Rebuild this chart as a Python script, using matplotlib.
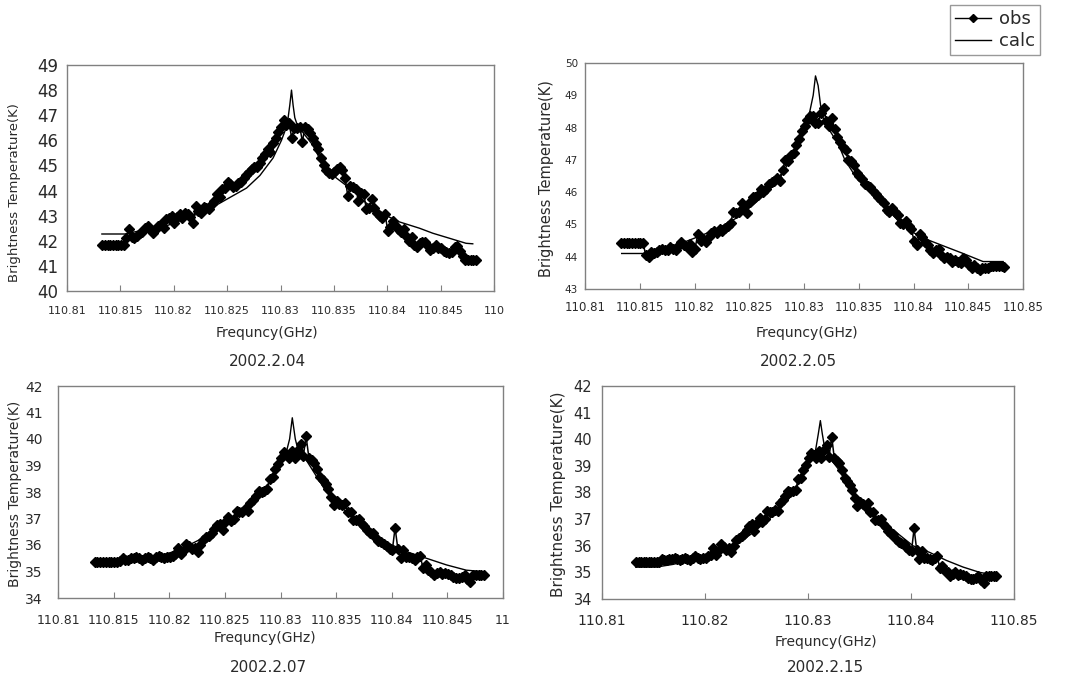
import numpy as np
import matplotlib
matplotlib.use("Agg")
import matplotlib.pyplot as plt
from matplotlib.lines import Line2D

# ---------------- data ----------------
# observed channels (evenly spaced spectrometer channels, GHz)
freq_start = 110.8133
freq_step = 0.00025

obs_0204 = [41.83, 41.83, 41.83, 41.83, 41.83, 41.83, 41.83, 41.83, 41.83, 42.1,
            42.45, 42.15, 42.1, 42.2, 42.3, 42.35, 42.5, 42.6, 42.45, 42.3,
            42.45, 42.6, 42.65, 42.5, 42.85, 42.9, 43.0, 42.7, 42.95, 43.05,
            42.9, 43.1, 43.05, 42.95, 42.7, 43.4, 43.2, 43.1, 43.35, 43.3,
            43.25, 43.45, 43.6, 43.85, 43.75, 44.05, 44.1, 44.35, 44.25, 44.15,
            44.2, 44.3, 44.35, 44.5, 44.6, 44.75, 44.85, 44.95, 44.95, 45.1,
            45.3, 45.45, 45.65, 45.55, 45.9, 46.1, 46.35, 46.55, 46.8, 46.6,
            46.7, 46.1, 46.5, 46.5, 46.55, 45.95, 46.55, 46.45, 46.3, 46.1,
            45.85, 45.65, 45.3, 45.0, 44.8, 44.7, 44.65, 44.75, 44.85, 44.95,
            44.8, 44.5, 43.8, 44.2, 44.15, 44.05, 43.6, 43.9, 43.85, 43.25,
            43.3, 43.65, 43.3, 43.1, 43.0, 42.9, 43.05, 42.4, 42.55, 42.8,
            42.6, 42.45, 42.35, 42.45, 42.2, 42.0, 42.15, 41.85, 41.75, 41.9,
            41.95, 41.95, 41.8, 41.65, 41.7, 41.85, 41.7, 41.7, 41.6, 41.55,
            41.5, 41.55, 41.75, 41.8, 41.6, 41.4, 41.22, 41.22, 41.22, 41.22,
            41.22]

obs_0205 = [44.42, 44.42, 44.42, 44.42, 44.42, 44.42, 44.42, 44.42, 44.42, 44.05,
            44.0, 44.15, 44.1, 44.15, 44.2, 44.25, 44.2, 44.2, 44.3, 44.25,
            44.2, 44.35, 44.45, 44.35, 44.3, 44.4, 44.15, 44.25, 44.7, 44.5,
            44.55, 44.45, 44.6, 44.75, 44.8, 44.75, 44.85, 44.8, 44.9, 44.95,
            45.05, 45.4, 45.35, 45.4, 45.65, 45.55, 45.35, 45.7, 45.85, 45.85,
            45.9, 46.1, 46.0, 46.1, 46.25, 46.3, 46.35, 46.45, 46.35, 46.7,
            47.0, 46.95, 47.15, 47.2, 47.45, 47.65, 47.9, 48.05, 48.25, 48.35,
            48.35, 48.15, 48.15, 48.45, 48.6, 48.2, 48.05, 48.3, 47.95, 47.7,
            47.55, 47.4, 47.3, 47.0, 46.95, 46.85, 46.6, 46.5, 46.4, 46.25,
            46.2, 46.15, 46.05, 45.95, 45.85, 45.75, 45.65, 45.45, 45.4, 45.5,
            45.4, 45.3, 45.05, 45.0, 45.1, 44.95, 44.85, 44.5, 44.35, 44.7,
            44.6, 44.45, 44.35, 44.2, 44.1, 44.2, 44.25, 44.05, 43.95, 44.0,
            43.95, 43.85, 43.9, 43.85, 43.8, 43.95, 43.9, 43.75, 43.65, 43.75,
            43.65, 43.6, 43.65, 43.65, 43.65, 43.7, 43.7, 43.7, 43.7, 43.7,
            43.68]

obs_0207 = [35.35, 35.35, 35.35, 35.35, 35.35, 35.35, 35.35, 35.35, 35.35, 35.4,
            35.5, 35.45, 35.45, 35.5, 35.5, 35.55, 35.5, 35.45, 35.5, 35.55,
            35.5, 35.45, 35.55, 35.6, 35.55, 35.5, 35.55, 35.55, 35.6, 35.65,
            35.9, 35.65, 35.8, 36.05, 35.95, 35.85, 35.9, 35.75, 36.0, 36.2,
            36.3, 36.35, 36.45, 36.6, 36.75, 36.8, 36.55, 36.85, 37.05, 36.9,
            37.0, 37.3, 37.25, 37.25, 37.35, 37.3, 37.6, 37.7, 37.85, 38.05,
            38.0, 38.05, 38.1, 38.5, 38.55, 38.85, 39.05, 39.3, 39.5, 39.4,
            39.3, 39.55, 39.3, 39.6, 39.8, 39.35, 40.1, 39.3, 39.2, 39.1,
            38.85, 38.55, 38.45, 38.3, 38.1, 37.8, 37.5, 37.65, 37.55, 37.5,
            37.6, 37.25, 37.25, 36.95, 36.95, 37.0, 36.8, 36.7, 36.55, 36.45,
            36.45, 36.25, 36.15, 36.1, 36.05, 35.95, 35.85, 35.8, 36.65, 35.85,
            35.5, 35.8, 35.55, 35.55, 35.5, 35.45, 35.55, 35.6, 35.15, 35.25,
            35.05, 35.0, 34.85, 34.95, 35.0, 34.9, 34.95, 34.9, 34.85, 34.8,
            34.75, 34.75, 34.8, 34.85, 34.7, 34.6, 34.85, 34.85, 34.85, 34.85,
            34.85]

obs_0215 = [35.38, 35.38, 35.38, 35.38, 35.38, 35.38, 35.38, 35.38, 35.38, 35.4,
            35.5, 35.45, 35.45, 35.5, 35.5, 35.55, 35.5, 35.45, 35.5, 35.55,
            35.5, 35.45, 35.55, 35.6, 35.55, 35.5, 35.55, 35.55, 35.6, 35.65,
            35.9, 35.65, 35.8, 36.05, 35.95, 35.85, 35.9, 35.75, 36.0, 36.2,
            36.3, 36.35, 36.45, 36.6, 36.75, 36.8, 36.55, 36.85, 37.05, 36.9,
            37.0, 37.3, 37.25, 37.25, 37.35, 37.3, 37.6, 37.7, 37.85, 38.05,
            38.0, 38.05, 38.1, 38.5, 38.55, 38.85, 39.05, 39.3, 39.5, 39.4,
            39.3, 39.55, 39.3, 39.6, 39.8, 39.35, 40.1, 39.3, 39.2, 39.1,
            38.85, 38.55, 38.45, 38.3, 38.1, 37.8, 37.5, 37.65, 37.55, 37.5,
            37.6, 37.25, 37.25, 36.95, 36.95, 37.0, 36.8, 36.7, 36.55, 36.45,
            36.45, 36.25, 36.15, 36.1, 36.05, 35.95, 35.85, 35.8, 36.65, 35.85,
            35.5, 35.8, 35.55, 35.55, 35.5, 35.45, 35.55, 35.6, 35.15, 35.25,
            35.05, 35.0, 34.85, 34.95, 35.0, 34.9, 34.95, 34.9, 34.85, 34.8,
            34.75, 34.75, 34.8, 34.85, 34.7, 34.6, 34.85, 34.85, 34.85, 34.85,
            34.88]

# model (calc) curves
calc_freq_0204 = [110.81327, 110.81545, 110.81685, 110.81935, 110.82121, 110.82308,
                  110.82495, 110.82682, 110.82807, 110.82931, 110.83009, 110.83062,
                  110.83087, 110.83103, 110.83118, 110.83134, 110.83150, 110.83212,
                  110.83305, 110.83399, 110.83523, 110.83679, 110.83804, 110.83991,
                  110.84115, 110.84302, 110.84427, 110.84583, 110.84738, 110.84801]
calc_0204 = [42.27, 42.27, 42.4, 42.6, 42.9, 43.2,
             43.65, 44.1, 44.6, 45.3, 46.0, 46.6,
             47.4, 48.0, 47.4, 46.9, 46.7, 46.3,
             45.8, 45.0, 44.5, 44.0, 43.5, 43.0,
             42.75, 42.5, 42.3, 42.1, 41.9, 41.88]

calc_freq_0205 = [110.81335, 110.81532, 110.81715, 110.81867, 110.82019, 110.82202,
                  110.82384, 110.82567, 110.82719, 110.82840, 110.82932, 110.83008,
                  110.83053, 110.83084, 110.83105, 110.83129, 110.83151, 110.83175,
                  110.83236, 110.83312, 110.83373, 110.83449, 110.83540, 110.83662,
                  110.83783, 110.83890, 110.83996, 110.84148, 110.84300, 110.84453,
                  110.84635, 110.84818]
calc_0205 = [44.1, 44.1, 44.25, 44.4, 44.6, 44.85,
             45.2, 45.7, 46.2, 46.8, 47.4, 48.0,
             48.5, 49.0, 49.6, 49.3, 48.7, 48.3,
             47.9, 47.5, 47.0, 46.6, 46.3, 45.9,
             45.4, 45.0, 44.75, 44.5, 44.3, 44.1,
             43.85, 43.85]

calc_freq_0207 = [110.81324, 110.81509, 110.81674, 110.81824, 110.82004, 110.82154,
                  110.82273, 110.82423, 110.82573, 110.82723, 110.82843, 110.82933,
                  110.82993, 110.83052, 110.83082, 110.83106, 110.83133, 110.83157,
                  110.83187, 110.83232, 110.83307, 110.83412, 110.83532, 110.83652,
                  110.83801, 110.83951, 110.84131, 110.84311, 110.84491, 110.84670,
                  110.84805]
calc_0207 = [35.3, 35.3, 35.35, 35.5, 35.7, 35.95,
             36.2, 36.6, 37.0, 37.5, 38.0, 38.6,
             39.1, 39.5, 40.0, 40.8, 40.0, 39.6,
             39.6, 39.2, 38.7, 38.0, 37.5, 37.0,
             36.5, 36.1, 35.75, 35.5, 35.25, 35.05,
             35.0]

calc_freq_0215 = [110.81327, 110.81528, 110.81689, 110.81851, 110.82013, 110.82142,
                  110.82272, 110.82434, 110.82563, 110.82709, 110.82822, 110.82919,
                  110.82984, 110.83032, 110.83074, 110.83100, 110.83120, 110.83139,
                  110.83165, 110.83210, 110.83291, 110.83405, 110.83534, 110.83696,
                  110.83858, 110.84019, 110.84181, 110.84343, 110.84505, 110.84667,
                  110.84812]
calc_0215 = [35.2, 35.2, 35.3, 35.45, 35.55, 35.75,
             36.0, 36.4, 36.8, 37.3, 37.8, 38.4,
             38.9, 39.3, 39.6, 40.2, 40.7, 40.2,
             39.6, 39.3, 38.9, 38.2, 37.46, 37.0,
             36.5, 36.0, 35.75, 35.45, 35.2, 35.0,
             34.9]

dates = ["2002.2.04", "2002.2.05", "2002.2.07", "2002.2.15"]

xticks_fine = [110.81, 110.815, 110.82, 110.825, 110.83, 110.835, 110.84, 110.845, 110.85]
xticks_coarse = [110.81, 110.82, 110.83, 110.84, 110.85]
xlabels_0204 = ["110.81", "110.815", "110.82", "110.825", "110.83", "110.835", "110.84", "110.845", "110"]
xlabels_0205 = ["110.81", "110.815", "110.82", "110.825", "110.83", "110.835", "110.84", "110.845", "110.85"]
xlabels_0207 = ["110.81", "110.815", "110.82", "110.825", "110.83", "110.835", "110.84", "110.845", "11"]
xlabels_0215 = ["110.81", "110.82", "110.83", "110.84", "110.85"]

yrange_0204 = (40, 49)
yrange_0205 = (43, 50)
yrange_0207 = (34, 42)
yrange_0215 = (34, 42)

# ---------------- figure ----------------
W, H = 1071, 677
fig = plt.figure(figsize=(W / 100, H / 100), dpi=100)
plt.rcParams['font.family'] = ['DejaVu Sans']
TXT = '#2a2a2a'

def px_rect(l, t, r, b):
    return [l / W, 1 - b / H, (r - l) / W, (b - t) / H]

panels = [
    dict(rect=px_rect(67, 65, 494, 291), obs=obs_0204, cf=calc_freq_0204, cv=calc_0204,
         yr=yrange_0204, xt=xticks_fine, xl=xlabels_0204, date=dates[0],
         yfs=12, xfs=8, xpad=11, ypad=6, ylab_fs=9.5, ylab_x=15, ylab_y=0.434,
         xlab_y=333, date_y=362, date_x=267, xlab_x=267),
    dict(rect=px_rect(585, 63, 1023, 289), obs=obs_0205, cf=calc_freq_0205, cv=calc_0205,
         yr=yrange_0205, xt=xticks_fine, xl=xlabels_0205, date=dates[1],
         yfs=7.5, xfs=8.5, xpad=8.5, ypad=5, ylab_fs=10.5, ylab_x=547, ylab_y=0.49,
         xlab_y=333, date_y=362, date_x=798, xlab_x=807),
    dict(rect=px_rect(58, 386, 503, 598), obs=obs_0207, cf=calc_freq_0207, cv=calc_0207,
         yr=yrange_0207, xt=xticks_fine, xl=xlabels_0207, date=dates[2],
         yfs=10, xfs=9, xpad=11.5, ypad=11, ylab_fs=10, ylab_x=15, ylab_y=0.49,
         xlab_y=638, date_y=667, date_x=268, xlab_x=265),
    dict(rect=px_rect(602, 386, 1014, 599), obs=obs_0215, cf=calc_freq_0215, cv=calc_0215,
         yr=yrange_0215, xt=xticks_coarse, xl=xlabels_0215, date=dates[3],
         yfs=10.5, xfs=10, xpad=11, ypad=7, ylab_fs=11, ylab_x=558, ylab_y=0.49,
         xlab_y=642, date_y=668, date_x=825, xlab_x=826),
]

for p in panels:
    ax = fig.add_axes(p['rect'])
    obs = np.array(p['obs'])
    f_obs = freq_start + freq_step * np.arange(len(obs))
    ax.plot(f_obs, obs, color='black', lw=1.1, marker='D', ms=5,
            markerfacecolor='black', markeredgecolor='black', zorder=3)
    ax.plot(p['cf'], p['cv'], color='black', lw=1.0, zorder=2)
    ax.set_xlim(110.81, 110.85)
    ax.set_ylim(*p['yr'])
    ax.set_xticks(p['xt'])
    ax.set_xticklabels(p['xl'])
    ax.set_yticks(np.arange(p['yr'][0], p['yr'][1] + 1))
    ax.tick_params(axis='x', direction='in', length=4, width=0.8, color='#808080',
                   labelsize=p['xfs'], pad=p['xpad'], labelcolor=TXT)
    ax.tick_params(axis='y', direction='in', length=0, width=0.8, color='#808080',
                   labelsize=p['yfs'], pad=p['ypad'], labelcolor=TXT)
    for s in ax.spines.values():
        s.set_color('#808080')
        s.set_linewidth(1.0)
    # axis titles
    x0, y0, w, h = p['rect']
    ax.set_ylabel("Brightness Temperature(K)", fontsize=p['ylab_fs'], color=TXT, va='center')
    ax.yaxis.set_label_coords((p['ylab_x'] / W - x0) / w, p['ylab_y'])
    ax.set_xlabel("Frequncy(GHz)", fontsize=10, color=TXT, va='center')
    ax.xaxis.set_label_coords((p['xlab_x'] / W - x0) / w, ((1 - p['xlab_y'] / H) - y0) / h)
    fig.text(p['date_x'] / W, 1 - p['date_y'] / H, p['date'], fontsize=11, color=TXT,
             ha='center', va='center')

handles = [Line2D([], [], color='black', lw=1.0, marker='D', ms=4),
           Line2D([], [], color='black', lw=1.0)]
leg = fig.legend(handles, ['obs', 'calc'], loc='upper right',
                 bbox_to_anchor=(1040 / W, 1 - 5 / H), fontsize=13, frameon=True,
                 fancybox=False, edgecolor='#808080', handlelength=2.0,
                 handletextpad=0.4, borderpad=0.3, labelspacing=0.2, borderaxespad=0)
leg.get_frame().set_linewidth(1.0)
for t in leg.get_texts():
    t.set_color(TXT)

fig.savefig("out.png", dpi=100)
